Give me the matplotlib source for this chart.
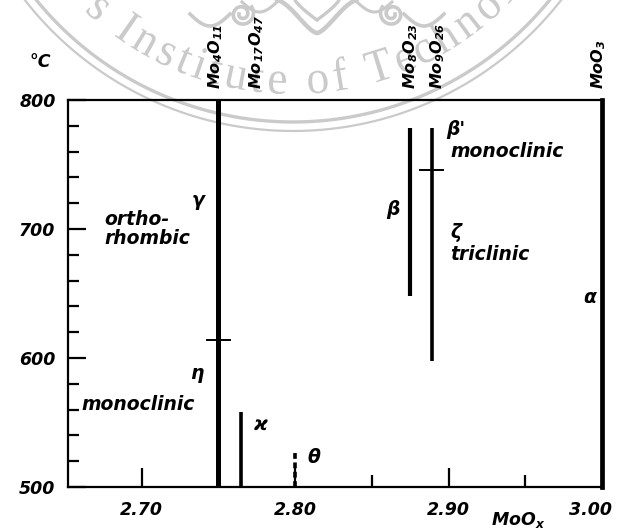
import numpy as np
import matplotlib
matplotlib.use("Agg")
import matplotlib.pyplot as plt
from matplotlib.ticker import MultipleLocator, FixedLocator
from matplotlib.textpath import TextPath, TextToPath
from matplotlib.font_manager import FontProperties
from matplotlib.patches import PathPatch
from matplotlib.path import Path

plt.rcParams["font.family"] = ["DejaVu Sans"]
plt.rcParams["mathtext.fontset"] = "custom"
plt.rcParams["mathtext.rm"] = "DejaVu Sans:italic:bold"
plt.rcParams["mathtext.it"] = "DejaVu Sans:italic:bold"
plt.rcParams["mathtext.bf"] = "DejaVu Sans:italic:bold"

# Mo-O phases: composition x in MoOx and stability range in degC
phase_names = [r"Mo$_4$O$_{11}$", r"Mo$_{17}$O$_{47}$", None,
               r"Mo$_8$O$_{23}$", r"Mo$_9$O$_{26}$", r"MoO$_3$"]
phase_x = [11 / 4, 47 / 17, 2.80, 23 / 8, 26 / 9, 3.00]
phase_t_low = [500, 500, 500, 648, 598, 500]
phase_t_high = [800, 558, 527, 778, 778, 800]
phase_widths = [3.6, 2.6, 2.6, 3.0, 2.6, 3.4]
phase_dashed = [False, False, True, False, False, False]

# polymorphic transitions (composition, temperature)
transition_x = [11 / 4, 26 / 9]
transition_t = [614, 746]

# modification labels
label_x = [2.737, 2.676, 2.736, 2.661, 2.778, 2.812, 2.864, 2.905, 2.901, 2.905, 2.901, 2.992]
label_t = [722, 700, 588, 564, 548, 522.5, 715, 777, 760, 697, 680, 647]
label_text = ["γ", "ortho-\nrhombic", "η", "monoclinic", "ϰ", "θ", "β", "β'",
              "monoclinic", "ζ", "triclinic", "α"]

x_ticks = [2.70, 2.80, 2.90, 3.00]
x_minor = [2.75, 2.85, 2.95]
y_ticks = [500, 600, 700, 800]

W, H = 617, 532
fig = plt.figure(figsize=(W / 100, H / 100), dpi=100)

# faint circular seal in the background (pixel coordinates, y up)
bg = fig.add_axes([0, 0, 1, 1], zorder=0)
bg.set_xlim(0, W)
bg.set_ylim(0, H)
bg.axis("off")
grey = "#cacaca"
cx, cy = 293, H + 209
th = np.linspace(0, 2 * np.pi, 1440)
for r, lw in [(331, 2.4), (340, 1.6)]:
    bg.plot(cx + r * np.cos(th), cy + r * np.sin(th), color=grey, lw=lw)

seal_text = "Mongkut's Institute of Technology"
prop = FontProperties(family="Liberation Serif", size=34)
t2p = TextToPath()
tracking = 4.0
r_base = 303
start_idx = seal_text.index("I")
offsets = []
for i in range(len(seal_text)):
    wdt = t2p.get_text_width_height_descent(seal_text[:i], prop, ismath=False)[0] if i else 0.0
    offsets.append(wdt * 100 / 72 + i * tracking)
theta_I = np.deg2rad(-126.4)
for i, ch in enumerate(seal_text):
    if ch == " ":
        continue
    tp = TextPath((0, 0), ch, prop=prop)
    verts = tp.vertices.copy() * 100 / 72
    u = verts[:, 0] + offsets[i] - offsets[start_idx]
    v = verts[:, 1]
    ang = theta_I + u / r_base
    rad = r_base - v
    new = np.column_stack([cx + rad * np.cos(ang), cy + rad * np.sin(ang)])
    bg.add_patch(PathPatch(Path(new, tp.codes), facecolor=grey, edgecolor="none"))

# ornament at the top of the seal, mirrored about its axis
mx = 317
s = np.linspace(0, 1, 100)
for sign in (-1, 1):
    # outer lobe down to the central point
    bg.plot(mx + sign * 40 * (1 - s) ** 1.3, H - (33 * np.sin(np.pi / 2 * s) ** 1.5),
            color=grey, lw=3.2, solid_capstyle="round")
    bg.plot(mx + sign * (22 * (1 - s)), H - 20 * s ** 0.8, color=grey, lw=2.4,
            solid_capstyle="round")
    # side scroll
    phi = np.linspace(0, 3.2 * np.pi, 200)
    rr = 3 + 9 * phi / phi[-1]
    sx = mx + sign * (75 + rr * np.cos(phi))
    sy = H - (14 + rr * np.sin(phi))
    bg.plot(sx, sy, color=grey, lw=2.6)
    tail = np.linspace(0, 1, 80)
    bg.plot(mx + sign * (87 + 40 * tail), H - (14 + 12 * np.sin(np.pi * tail)),
            color=grey, lw=2.6)
    bg.plot(mx + sign * (40 + 35 * tail), H - (2 + 10 * np.sin(np.pi * tail)),
            color=grey, lw=2.2)

left, right, bottom, top = 68, 602, 487, 100
ax = fig.add_axes([left / W, 1 - bottom / H, (right - left) / W, (bottom - top) / H],
                  zorder=1)
ax.patch.set_alpha(0)
ax.set_xlim(2.652, 3.0)
ax.set_ylim(500, 800)

for sp in ["left", "bottom", "top"]:
    ax.spines[sp].set_linewidth(1.6)
ax.spines["right"].set_linewidth(3.4)

ax.yaxis.set_major_locator(FixedLocator(y_ticks))
ax.yaxis.set_minor_locator(MultipleLocator(20))
ax.xaxis.set_major_locator(FixedLocator(x_ticks))
ax.xaxis.set_minor_locator(FixedLocator(x_minor))
ax.tick_params(axis="y", which="major", direction="in", length=13, width=1.6, pad=9)
ax.tick_params(axis="y", which="minor", direction="in", length=8, width=1.6)
ax.tick_params(axis="x", which="major", direction="in", length=14, width=1.6, pad=10)
ax.tick_params(axis="x", which="minor", direction="in", length=9, width=1.6)
ax.set_yticklabels([str(v) for v in y_ticks])
ax.set_xticklabels([f"{v:.2f}" for v in x_ticks[:-1]] + [""])
for lab in ax.get_xticklabels() + ax.get_yticklabels():
    lab.set_fontsize(12.5)
    lab.set_fontweight("bold")
    lab.set_fontstyle("italic")
# last composition label sits inside the figure edge
ax.annotate(f"{x_ticks[-1]:.2f}", (x_ticks[-1], 500), xytext=(-8, -10),
            textcoords="offset points", ha="center", va="top", fontsize=12.5,
            fontweight="bold", fontstyle="italic", annotation_clip=False)

# phase lines
for x, lo, hi, lw, dashed in zip(phase_x, phase_t_low, phase_t_high, phase_widths, phase_dashed):
    if x >= 3.0:
        continue
    ax.plot([x, x], [lo, hi], color="black", lw=lw,
            ls=(0, (1.6, 1.0)) if dashed else "-", solid_capstyle="butt",
            clip_on=False)

# transition marks
for x, t in zip(transition_x, transition_t):
    ax.plot([x - 0.0075, x + 0.0075], [t, t], color="black", lw=1.4)

# compound labels above the frame
name_offsets = [-0.002, 0.010, 0, 0, 0.004, -0.002]
for name, x, dx in zip(phase_names, phase_x, name_offsets):
    if name is None:
        continue
    ax.annotate(name, (x + dx, 800), xytext=(0, 8), textcoords="offset points",
                rotation=90, ha="center", va="bottom", fontsize=11.5,
                fontweight="bold", fontstyle="italic", annotation_clip=False)

for x, t, txt in zip(label_x, label_t, label_text):
    ha = "center" if len(txt) <= 2 else "left"
    ax.text(x, t, txt, ha=ha, va="center", fontsize=13.5, fontweight="bold",
            fontstyle="italic", linespacing=0.95)

fig.text(40 / W, 1 - 62 / H, "°C", ha="center", va="center", fontsize=12.5,
         fontweight="bold", fontstyle="italic")
fig.text(518 / W, 1 - 520 / H, r"MoO$_x$", ha="center", va="center", fontsize=12.5,
         fontweight="bold", fontstyle="italic")

fig.savefig("out.png", dpi=100)
